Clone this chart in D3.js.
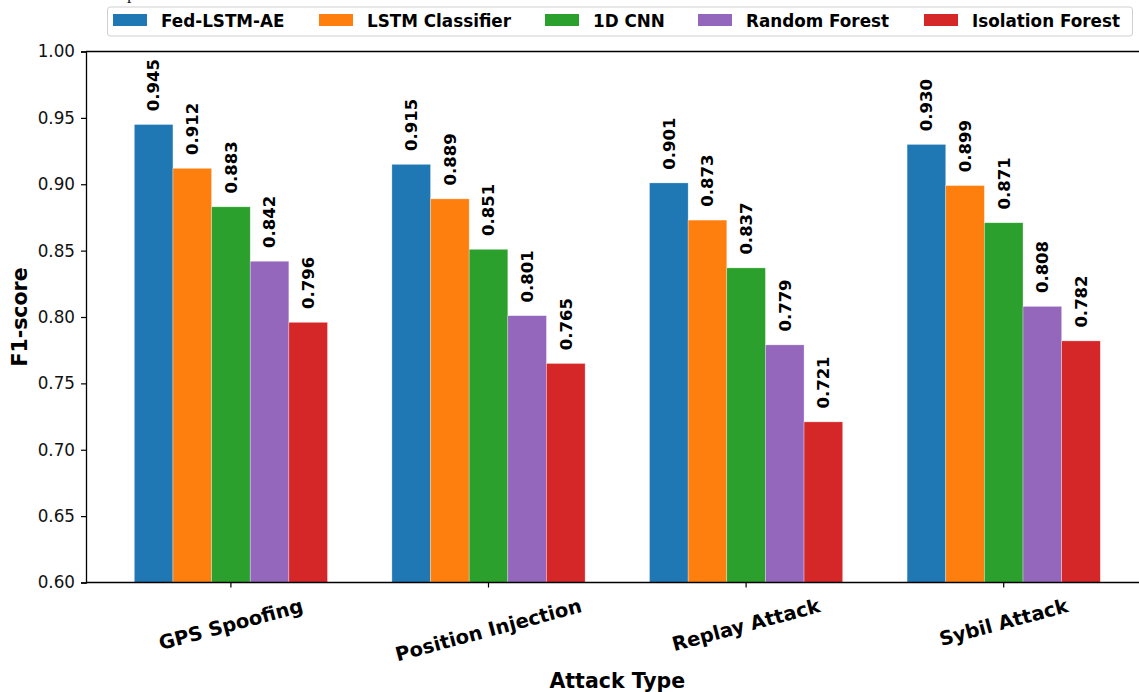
<!DOCTYPE html>
<html>
<head>
<meta charset="utf-8">
<script src="https://cdn.jsdelivr.net/npm/d3@7"></script>
<style>
  html, body { margin: 0; padding: 0; background: #fff; }
  svg { display: block; font-family: "DejaVu Sans", sans-serif; }
</style>
</head>
<body>
<svg id="chart" width="1139" height="692"></svg>
<script>
const categories = ["GPS Spoofing", "Position Injection", "Replay Attack", "Sybil Attack"];
const seriesNames = ["Fed-LSTM-AE", "LSTM Classifier", "1D CNN", "Random Forest", "Isolation Forest"];
const seriesColors = ["#1f77b4", "#ff7f0e", "#2ca02c", "#9467bd", "#d62728"];
const fedLstmAe = [0.945, 0.915, 0.901, 0.930];
const lstmClassifier = [0.912, 0.889, 0.873, 0.899];
const cnn1d = [0.883, 0.851, 0.837, 0.871];
const randomForest = [0.842, 0.801, 0.779, 0.808];
const isolationForest = [0.796, 0.765, 0.721, 0.782];
const yTicks = [0.60, 0.65, 0.70, 0.75, 0.80, 0.85, 0.90, 0.95, 1.00];

const seriesValues = [fedLstmAe, lstmClassifier, cnn1d, randomForest, isolationForest];

const svg = d3.select("#chart");
const plotLeft = 86, plotTop = 51.5, plotBottom = 582.5;
const barW = 0.15;
const x = d3.scaleLinear().domain([-0.5625, 3.5625]).range([plotLeft, plotLeft + 4.125 * 257.6]);
const y = d3.scaleLinear().domain([0.6, 1.0]).range([plotBottom, plotTop]);

// top fragment of cropped caption
svg.append("text").attr("x", 127).attr("y", -1)
  .attr("font-family", "Liberation Serif, serif").attr("font-size", 18).attr("fill", "#222").text("p");

// bars
const g = svg.append("g");
seriesValues.forEach((vals, si) => {
  const offset = (si - 2) * barW;
  g.selectAll(null).data(vals).enter().append("rect")
    .attr("x", (d, i) => x(i + offset - barW / 2))
    .attr("width", (d, i) => x(i + offset + barW / 2) - x(i + offset - barW / 2))
    .attr("y", d => y(d))
    .attr("height", d => y(0.6) - y(d))
    .attr("fill", seriesColors[si])
    .attr("stroke", "rgba(255,255,255,0.5)").attr("stroke-width", 0.6);
  g.selectAll(null).data(vals).enter().append("text")
    .attr("transform", (d, i) => `translate(${x(i + offset) + 5.8},${y(d + 0.01)}) rotate(-90)`)
    .attr("font-size", 16.5).attr("font-weight", "bold").attr("fill", "#000")
    .attr("text-anchor", "start")
    .text(d => d.toFixed(3));
});

// spines
svg.append("line").attr("x1", plotLeft).attr("x2", 1139).attr("y1", plotTop).attr("y2", plotTop)
  .attr("stroke", "#000").attr("stroke-width", 1.3);
svg.append("line").attr("x1", plotLeft).attr("x2", 1139).attr("y1", plotBottom).attr("y2", plotBottom)
  .attr("stroke", "#000").attr("stroke-width", 1.3);

// y axis
const yAxis = d3.axisLeft(y).tickValues(yTicks).tickFormat(d3.format(".2f")).tickSize(5).tickPadding(6);
const yg = svg.append("g").attr("transform", `translate(${plotLeft},0)`).call(yAxis);
yg.select(".domain").attr("stroke", "#000").attr("stroke-width", 1.3);
yg.selectAll(".tick line").attr("stroke", "#000").attr("stroke-width", 1.2);
yg.selectAll(".tick text").attr("font-size", 16.8).attr("fill", "#111")
  .attr("font-family", "DejaVu Sans, sans-serif");

// x ticks
const xg = svg.append("g");
categories.forEach((c, i) => {
  xg.append("line").attr("x1", x(i)).attr("x2", x(i)).attr("y1", plotBottom).attr("y2", plotBottom + 5)
    .attr("stroke", "#000").attr("stroke-width", 1.2);
  const fs = 19.5;
  const t = xg.append("text").attr("font-size", fs).attr("font-weight", "bold").attr("fill", "#000")
    .attr("text-anchor", "middle").attr("dominant-baseline", "central").text(c);
  const w = t.node().getComputedTextLength();
  const h = fs * 0.95;
  const ang = 15 * Math.PI / 180;
  const bh = w * Math.sin(ang) + h * Math.cos(ang);
  const cy = plotBottom + 5 + 9 + bh / 2;
  t.attr("transform", `translate(${x(i)},${cy}) rotate(-15)`);
});

// axis titles
svg.append("text").attr("x", x(1.5)).attr("y", 688).attr("text-anchor", "middle")
  .attr("font-size", 20.5).attr("font-weight", "bold").text("Attack Type");
svg.append("text").attr("transform", `translate(27,${(plotTop + plotBottom) / 2}) rotate(-90)`)
  .attr("text-anchor", "middle").attr("font-size", 20.5).attr("font-weight", "bold").text("F1-score");

// legend
const lg = svg.append("g");
lg.append("rect").attr("x", 107.5).attr("y", 7).attr("width", 1025).attr("height", 29)
  .attr("rx", 3).attr("fill", "rgba(255,255,255,0.85)").attr("stroke", "#d0d0d0").attr("stroke-width", 1);
const legendX = [113, 319, 545, 698, 924];
seriesNames.forEach((n, i) => {
  lg.append("rect").attr("x", legendX[i]).attr("y", 14).attr("width", 34).attr("height", 12)
    .attr("fill", seriesColors[i]);
  lg.append("text").attr("x", legendX[i] + 48).attr("y", 26.5).attr("font-size", 16.8)
    .attr("font-weight", "bold").attr("fill", "#000").text(n);
});
</script>
</body>
</html>
